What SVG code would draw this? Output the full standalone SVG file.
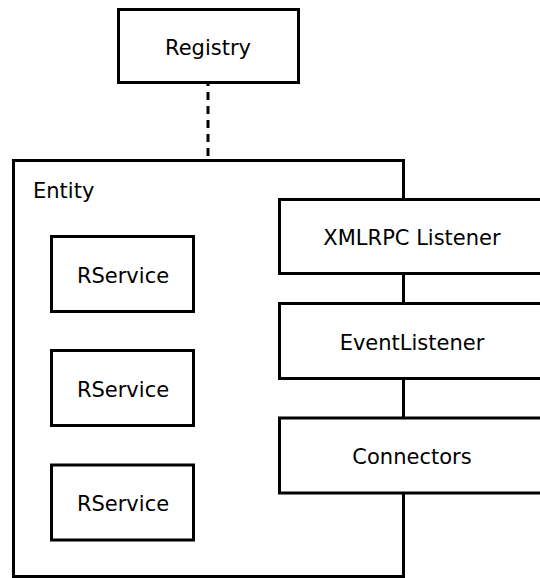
<svg xmlns="http://www.w3.org/2000/svg" width="540" height="578" viewBox="0 0 540 578">
<style>
.box{fill:#fff;stroke:#000;stroke-width:3}
.frame{fill:#fff;stroke:#000;stroke-width:3}
.lbl{font-family:"DejaVu Sans",sans-serif;font-size:21px;fill:#000;text-anchor:middle}
.conn{stroke:#000;stroke-width:3;fill:none}
</style>
<rect width="540" height="578" fill="#fff"/>
<g id="entity">
<rect class="frame" x="13.5" y="160.5" width="390" height="416"/>
<text class="lbl" x="33" y="198" style="text-anchor:start">Entity</text>
</g>
<g id="connectors">
<line class="conn" x1="208" y1="84" x2="208" y2="159" stroke-dasharray="8,6" stroke-dashoffset="-8"/>
</g>
<g id="registry">
<rect class="box" x="118.5" y="9.5" width="180" height="73"/>
<text class="lbl" x="208" y="55">Registry</text>
</g>
<g id="rservice1">
<rect class="box" x="51.5" y="236.5" width="142" height="75"/>
<text class="lbl" x="123" y="283">RService</text>
</g>
<g id="rservice2">
<rect class="box" x="51.5" y="350.5" width="142" height="75"/>
<text class="lbl" x="123" y="397">RService</text>
</g>
<g id="rservice3">
<rect class="box" x="51.5" y="465" width="142" height="75"/>
<text class="lbl" x="123" y="511">RService</text>
</g>
<g id="xmlrpc">
<rect class="box" x="279.5" y="199.5" width="270" height="74"/>
<text class="lbl" x="412" y="245">XMLRPC Listener</text>
</g>
<g id="eventlistener">
<rect class="box" x="279.5" y="303.5" width="270" height="75"/>
<text class="lbl" x="412" y="350">EventListener</text>
</g>
<g id="connectorsbox">
<rect class="box" x="279.5" y="418" width="270" height="75"/>
<text class="lbl" x="412" y="464">Connectors</text>
</g>
</svg>
